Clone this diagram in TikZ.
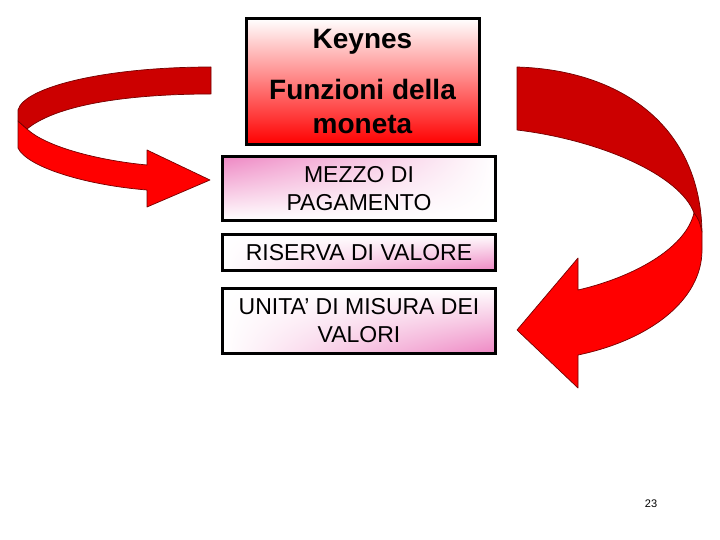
\documentclass[tikz,border=0pt]{standalone}
\usepackage{fontspec}
\setmainfont{Liberation Sans}
\usepackage{tikz}
\usetikzlibrary{positioning,shadings}
\definecolor{scuro}{RGB}{204,0,0}
\definecolor{vivo}{RGB}{255,0,0}
\definecolor{rosa}{RGB}{238,135,195}
\tikzset{
  casella/.style={draw=black, line width=3pt, minimum width=273pt, align=center, inner sep=0pt,
    font=\fontsize{23}{28}\selectfont},
  rosasu/.style={upper left=rosa, upper right=white, lower left=white, lower right=white},
  rosagiu/.style={upper left=white, upper right=white, lower left=white, lower right=rosa},
  nastro/.style={draw=black!55!red, line width=0.7pt, line join=round},
}

\begin{document}
\begin{tikzpicture}[x=1pt, y=-1pt]
\useasboundingbox (0,0) rectangle (720,540);
\fill[white] (0,0) rectangle (720,540);

\node[casella, minimum width=233pt, minimum height=126pt, top color=white, bottom color=red,
  font=\fontsize{28}{34}\selectfont\bfseries] (keynes) at (362.5,81.5)
  {Keynes\\[17pt]Funzioni della\\moneta};
\node[casella, minimum height=64pt, rosasu] (mezzo) at (359,188.5) {MEZZO DI\\PAGAMENTO};
\node[casella, minimum height=36pt, rosagiu] (riserva) at (359,252.5) {RISERVA DI VALORE};
\node[casella, minimum height=65pt, rosagiu] (unita) at (359,321) {UNITA’ DI MISURA DEI\\VALORI};

\filldraw[nastro, fill=vivo] (18,121) -- (18,148) .. controls (27,167) and (85,185) .. (147,190)
  -- (147,207) -- (210,180) -- (147,150) -- (147,165)
  .. controls (95,160) and (45,146) .. (27,129) -- cycle;
\filldraw[nastro, fill=scuro] (211,67) -- (211,94) .. controls (140,94) and (60,102) .. (27,129)
  -- (18,121) -- (18,110) .. controls (24,87) and (105,67) .. (211,67) -- cycle;

\filldraw[nastro, fill=scuro] (517,67) -- (517,130) .. controls (600,140) and (680,175) .. (694,213)
  -- (702,232) .. controls (700,125) and (620,70) .. (517,67) -- cycle;
\filldraw[nastro, fill=vivo] (694,213) .. controls (699,220) .. (702,232) -- (702,250)
  .. controls (702,300) and (650,340) .. (578,355) -- (578,388) -- (517,330) -- (578,258)
  -- (578,290) .. controls (630,278) and (685,250) .. (694,213) -- cycle;

\node[font=\fontsize{11}{13}\selectfont] (pagina) at (651,504) {23};
\end{tikzpicture}
\end{document}
